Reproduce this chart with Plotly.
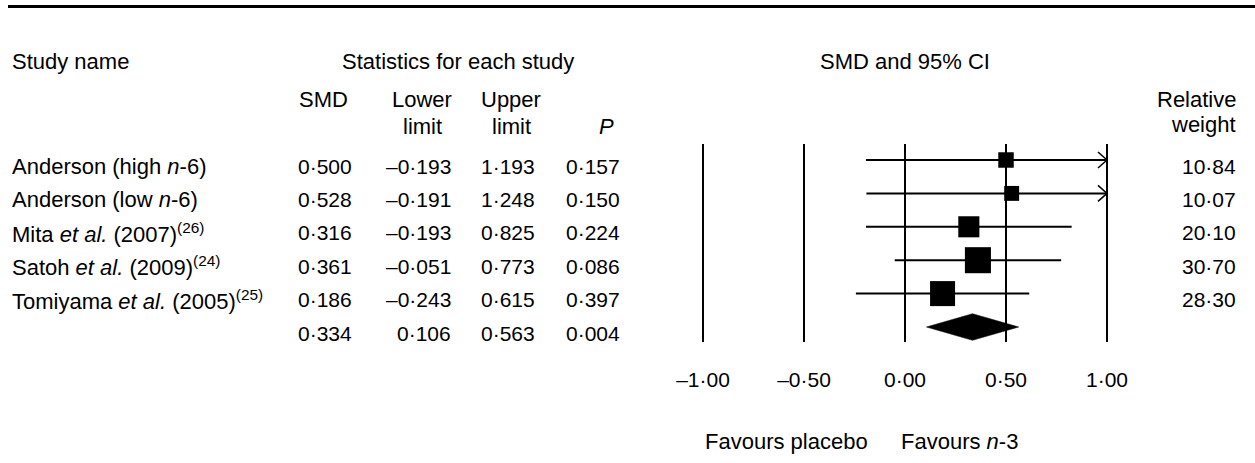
import math
import plotly.graph_objects as go

# ---------------- data ----------------
studies = [
    "Anderson (high <i>n</i>-6)",
    "Anderson (low <i>n</i>-6)",
    "Mita <i>et al.</i> (2007)<sup>(26)</sup>",
    "Satoh <i>et al.</i> (2009)<sup>(24)</sup>",
    "Tomiyama <i>et al.</i> (2005)<sup>(25)</sup>",
]
smd = [0.500, 0.528, 0.316, 0.361, 0.186]
lower = [-0.193, -0.191, -0.193, -0.051, -0.243]
upper = [1.193, 1.248, 0.825, 0.773, 0.615]
pvals = [0.157, 0.150, 0.224, 0.086, 0.397]
weights = [10.84, 10.07, 20.10, 30.70, 28.30]
pooled_smd = 0.334
pooled_lower = 0.106
pooled_upper = 0.563
pooled_p = 0.004
tick_vals = [-1.0, -0.5, 0.0, 0.5, 1.0]
tick_labels = ["–1·00", "–0·50", "0·00", "0·50", "1·00"]

# ---------------- layout constants (pixels) ----------------
W, H = 1255, 463
X0_PX, PX_PER_UNIT = 905.0, 202.0        # x=0 position and scale of the forest axis
ROW0_PX, ROW_PX = 160.0, 33.4            # first row centre, row spacing
PLOT_TOP_PX, PLOT_BOT_PX = 144.0, 342.0  # vertical extent of reference lines
XMIN, XMAX = -1.2, 1.2
CLIP = 1.0
FAMILY = "Liberation Sans, Arial, sans-serif"
FONT = dict(family=FAMILY, size=22, color="black")
NUM_FONT = dict(family=FAMILY, size=21, color="black")
BLACK = "#000000"


def fmt(v, nd=3):
    s = f"{v:.{nd}f}".replace(".", "·")
    return s.replace("-", "–")


def px_x(px):
    return px / W


def px_y(py):
    return 1 - py / H


dom_x = [px_x(X0_PX + XMIN * PX_PER_UNIT), px_x(X0_PX + XMAX * PX_PER_UNIT)]
dom_y = [px_y(PLOT_BOT_PX), px_y(PLOT_TOP_PX)]
y_top = (PLOT_TOP_PX - ROW0_PX) / ROW_PX
y_bot = (PLOT_BOT_PX - ROW0_PX) / ROW_PX

fig = go.Figure()

n = len(studies)
rows = list(range(n))
pooled_row = n

# CI lines
for i in rows:
    hi = min(upper[i], CLIP)
    fig.add_trace(go.Scatter(x=[lower[i], hi], y=[i, i], mode="lines",
                             line=dict(color=BLACK, width=2), hoverinfo="skip",
                             showlegend=False, cliponaxis=False))
    if upper[i] > CLIP:
        dx = 9 / PX_PER_UNIT
        dy = 8 / ROW_PX
        fig.add_trace(go.Scatter(x=[CLIP - dx, CLIP, CLIP - dx], y=[i - dy, i, i + dy],
                                 mode="lines", line=dict(color=BLACK, width=1.5),
                                 hoverinfo="skip", showlegend=False, cliponaxis=False))

# squares sized by weight
fig.add_trace(go.Scatter(
    x=smd, y=rows, mode="markers", opacity=1,
    marker=dict(symbol="square", color=BLACK, opacity=1,
                size=[4.7 * math.sqrt(w) for w in weights],
                line=dict(width=0, color=BLACK)),
    showlegend=False, cliponaxis=False))

# pooled diamond
hh = 13.3 / ROW_PX
fig.add_trace(go.Scatter(
    x=[pooled_lower, pooled_smd, pooled_upper, pooled_smd, pooled_lower],
    y=[pooled_row, pooled_row - hh, pooled_row, pooled_row + hh, pooled_row],
    mode="lines", fill="toself", fillcolor=BLACK, line=dict(color=BLACK, width=0.5),
    showlegend=False, cliponaxis=False))

ann = []


def add_text(text, x, y, xref="paper", yref="paper", xanchor="left", yshift=0, font=FONT):
    ann.append(dict(text=text, x=x, y=y, xref=xref, yref=yref, xanchor=xanchor,
                    yanchor="middle", showarrow=False, font=font, yshift=yshift))


# headers
add_text("Study name", px_x(10), px_y(61))
add_text("Statistics for each study", px_x(458), px_y(61), xanchor="center")
add_text("SMD and 95% CI", 0.0, px_y(61), xref="x", xanchor="center")
add_text("SMD", px_x(323), px_y(100), xanchor="center")
add_text("Lower", px_x(422), px_y(100), xanchor="center")
add_text("limit", px_x(422), px_y(126), xanchor="center")
add_text("Upper", px_x(511), px_y(100), xanchor="center")
add_text("limit", px_x(511), px_y(126), xanchor="center")
add_text("<i>P</i>", px_x(606), px_y(126), xanchor="center")
add_text("Relative", px_x(1238), px_y(100), xanchor="right")
add_text("weight", px_x(1238), px_y(125), xanchor="right")

col_right = [354, 453, 537, 622]
TEXT_SHIFT = -6
for i in rows:
    add_text(studies[i], px_x(10), i, yref="y", yshift=TEXT_SHIFT)
    for cx, v in zip(col_right, [smd[i], lower[i], upper[i], pvals[i]]):
        add_text(fmt(v), px_x(cx), i, yref="y", xanchor="right", yshift=TEXT_SHIFT,
                 font=NUM_FONT)
    add_text(fmt(weights[i], 2), px_x(1238), i, yref="y", xanchor="right",
             yshift=TEXT_SHIFT, font=NUM_FONT)
for cx, v in zip(col_right, [pooled_smd, pooled_lower, pooled_upper, pooled_p]):
    add_text(fmt(v), px_x(cx), pooled_row, yref="y", xanchor="right", yshift=TEXT_SHIFT,
             font=NUM_FONT)

add_text("Favours placebo", -1.0, px_y(441), xref="x", xanchor="left")
add_text("Favours <i>n</i>-3", -6 / PX_PER_UNIT, px_y(441), xref="x", xanchor="left")

fig.update_layout(
    width=W, height=H, margin=dict(l=0, r=0, t=0, b=0),
    paper_bgcolor="white", plot_bgcolor="white",
    font=FONT, annotations=ann,
    xaxis=dict(domain=dom_x, range=[XMIN, XMAX], tickvals=tick_vals, ticktext=tick_labels,
               showgrid=True, gridcolor=BLACK, gridwidth=2, zeroline=False,
               showline=False, ticks="", ticklabelstandoff=23, tickfont=NUM_FONT,
               fixedrange=True),
    yaxis=dict(domain=dom_y, range=[y_bot, y_top], showgrid=False, zeroline=False,
               showticklabels=False, ticks="", showline=False, fixedrange=True),
    shapes=[dict(type="line", xref="paper", yref="paper", x0=px_x(8), x1=1,
                 y0=px_y(6.5), y1=px_y(6.5), line=dict(color=BLACK, width=3))],
    showlegend=False,
)

fig.write_html("out.html", config={"displayModeBar": False},
               post_script="document.body.style.margin='0';document.body.style.overflow='hidden';")
